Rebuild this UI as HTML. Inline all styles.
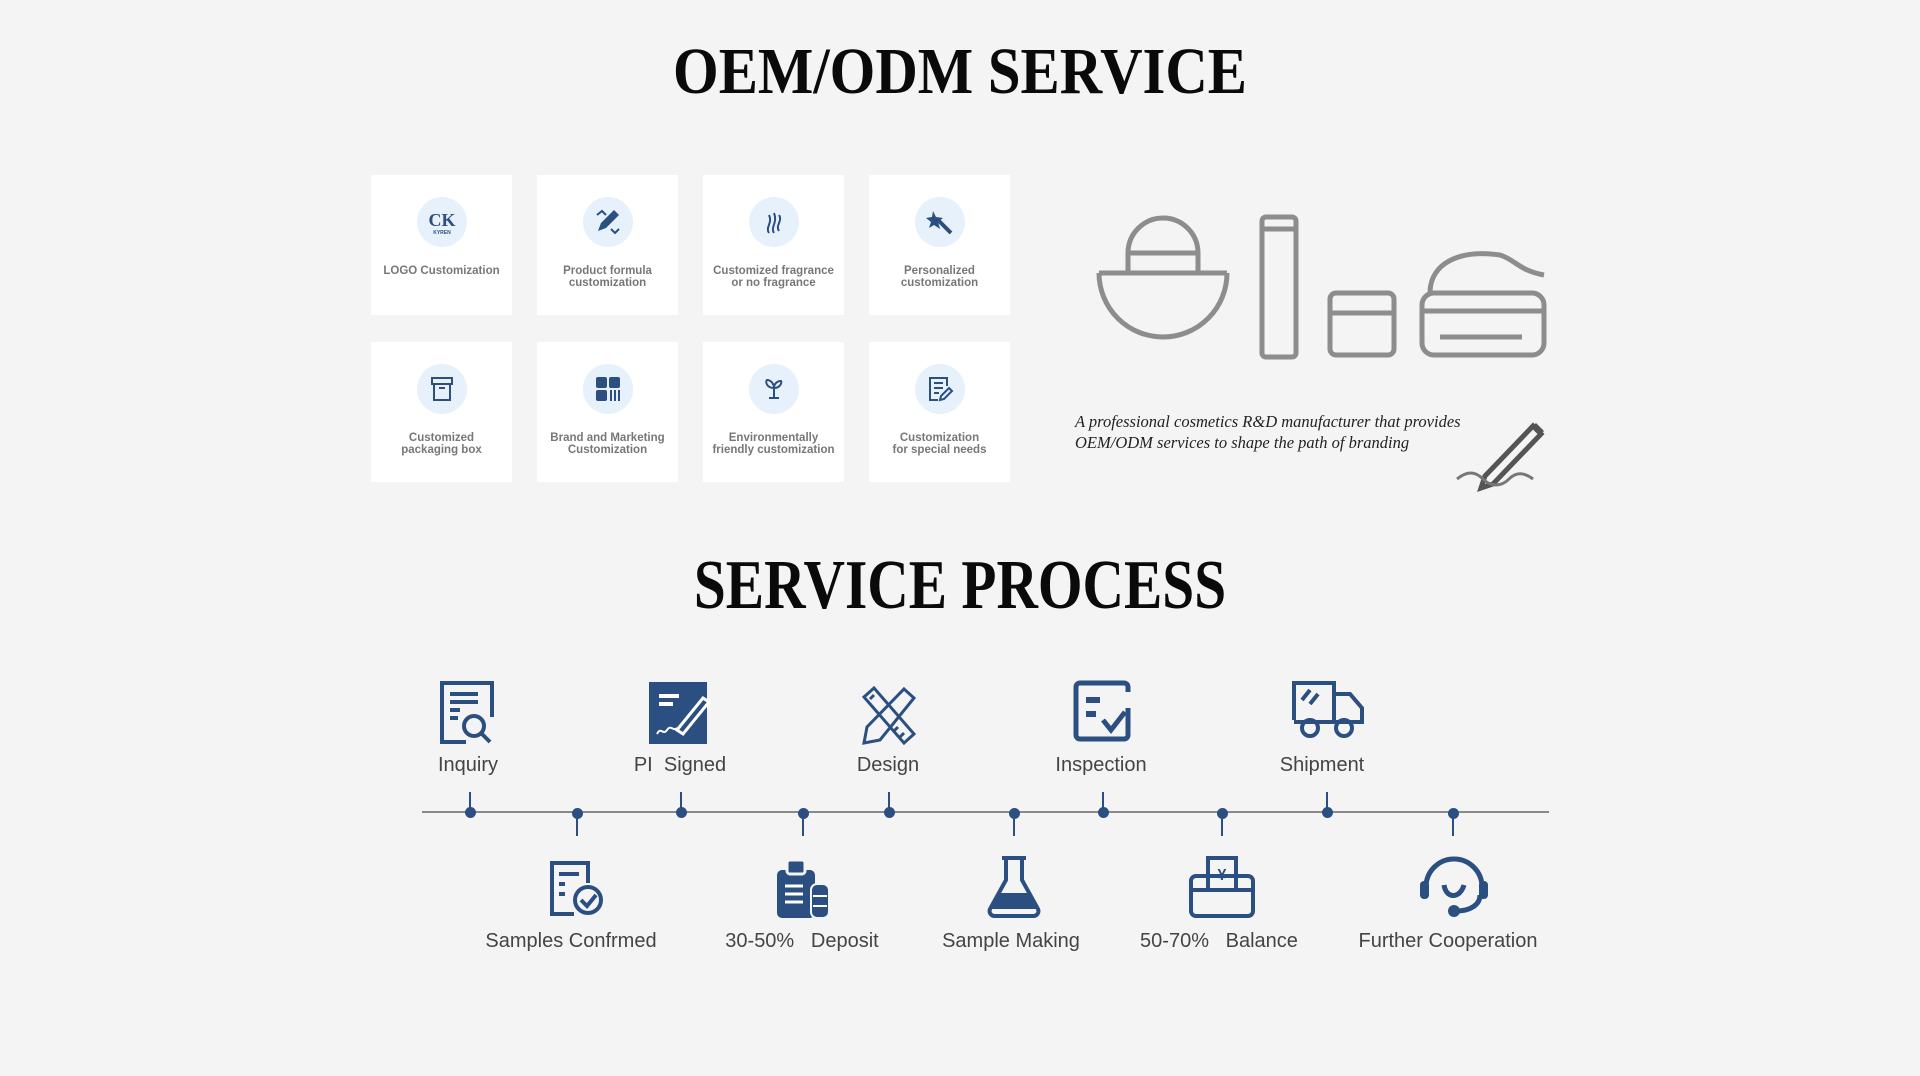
<!DOCTYPE html>
<html><head><meta charset="utf-8"><style>
*{margin:0;padding:0;box-sizing:border-box}
body{width:1920px;height:1076px;background:#f4f4f5;position:relative;overflow:hidden;font-family:"Liberation Sans",sans-serif}
.t{position:absolute;left:0;width:1920px;text-align:center;font-family:"Liberation Serif",serif;font-weight:bold;color:#0a0a0a}
.card{position:absolute;width:141px;height:140px;background:#fff;}
.card .c{position:absolute;left:46px;top:22px;width:50px;height:50px;border-radius:50%;background:#e6f1fb}
.card .c svg{position:absolute;left:10px;top:10px}
.card .l{position:absolute;left:0;width:141px;top:90px;text-align:center;font-size:11.5px;font-weight:bold;color:#777;line-height:12px}
.lab{position:absolute;font-size:20px;color:#444;text-align:center;width:240px;margin-left:-120px}
.ic{position:absolute}
.stem{position:absolute;width:2px;background:#2b4f80}
.dot{position:absolute;width:11px;height:11px;border-radius:50%;background:#2b4f80;margin-left:-5px;margin-top:-5px}
</style></head><body>
<div class="t" style="top:34px;font-size:66px;transform:scaleX(0.89)">OEM/ODM SERVICE</div>

<div class="card" style="left:371px;top:175px"><div class="c"><svg width="30" height="30" viewBox="0 0 30 30"><text x="15" y="19" font-size="18" text-anchor="middle" font-weight="bold" fill="#2b4f80" font-family="Liberation Serif">CK</text><text x="15" y="27" font-size="5" text-anchor="middle" fill="#2b4f80" font-weight="bold">KYREN</text></svg></div><div class="l">LOGO Customization</div></div>
<div class="card" style="left:537px;top:175px"><div class="c"><svg width="30" height="30" viewBox="0 0 30 30"><path d="M5 24L8 16 21 3 26 8 13 21Z" fill="#2b4f80"/><path d="M4 8l5-4 4 4M18 22l4 4 4-4" stroke="#2b4f80" fill="none" stroke-width="2"/></svg></div><div class="l">Product formula<br>customization</div></div>
<div class="card" style="left:703px;top:175px"><div class="c"><svg width="30" height="30" viewBox="0 0 30 30"><path d="M10 26c-4-6 4-10 0-18M15 26c-4-6 4-10 0-20M20 24c-4-6 4-10 0-16" stroke="#2b4f80" fill="none" stroke-width="2"/></svg></div><div class="l">Customized fragrance<br>or no fragrance</div></div>
<div class="card" style="left:869px;top:175px"><div class="c"><svg width="30" height="30" viewBox="0 0 30 30"><path d="M8 4l3 6 7 1-5 4 2 7-6-4-5 3 2-6-5-4 6-1z" fill="#2b4f80"/><path d="M14 14l12 12" stroke="#2b4f80" stroke-width="4"/></svg></div><div class="l">Personalized<br>customization</div></div>

<div class="card" style="left:371px;top:342px"><div class="c"><svg width="30" height="30" viewBox="0 0 30 30"><rect x="5" y="4" width="20" height="6" fill="none" stroke="#2b4f80" stroke-width="2"/><rect x="7" y="10" width="16" height="16" fill="none" stroke="#2b4f80" stroke-width="2"/><rect x="12" y="13" width="6" height="2" fill="#2b4f80"/></svg></div><div class="l">Customized<br>packaging box</div></div>
<div class="card" style="left:537px;top:342px"><div class="c"><svg width="30" height="30" viewBox="0 0 30 30"><rect x="3" y="3" width="11" height="11" rx="2" fill="#2b4f80"/><rect x="16" y="3" width="11" height="11" rx="2" fill="#2b4f80"/><rect x="3" y="16" width="11" height="11" rx="2" fill="#2b4f80"/><path d="M18 16v11M22 16v11M26 16v11" stroke="#2b4f80" stroke-width="2"/></svg></div><div class="l">Brand and Marketing<br>Customization</div></div>
<div class="card" style="left:703px;top:342px"><div class="c"><svg width="30" height="30" viewBox="0 0 30 30"><path d="M15 24V14M15 14C8 14 6 8 8 6c4 0 7 4 7 8zM15 14c6 0 8-5 7-7-4 0-7 3-7 7M10 24h10" stroke="#2b4f80" fill="none" stroke-width="2"/></svg></div><div class="l">Environmentally<br>friendly customization</div></div>
<div class="card" style="left:869px;top:342px"><div class="c"><svg width="30" height="30" viewBox="0 0 30 30"><path d="M22 12V4H5v22h8M9 9h9M9 14h9M9 19h5" stroke="#2b4f80" fill="none" stroke-width="2"/><path d="M15 26l1-4 8-8 3 3-8 8z" stroke="#2b4f80" fill="none" stroke-width="2"/></svg></div><div class="l">Customization<br>for special needs</div></div>

<svg class="ic" style="left:1090px;top:205px" width="460" height="160" viewBox="0 0 460 160">
<g fill="none" stroke="#8d8d8d" stroke-width="5">
<path d="M9 68h128"/><path d="M9 68a64 64 0 0 0 128 0"/><path d="M38 68V48a35 35 0 0 1 70 0v20"/><path d="M38 48h70"/>
<rect x="172" y="12" width="34" height="140" rx="4"/><path d="M172 24h34"/><rect x="240" y="88" width="64" height="62" rx="6" fill="#f4f4f5"/><path d="M240 108h64"/>
<rect x="332" y="88" width="122" height="62" rx="12"/><path d="M332 106h122M350 132h82"/><path d="M340 88c0-30 30-44 70-38 14 4 20 16 44 20"/>
</g></svg>
<div style="position:absolute;left:1075px;top:411px;font-family:'Liberation Serif',serif;font-style:italic;font-size:16.5px;color:#222;line-height:21px">A professional cosmetics R&amp;D manufacturer that provides<br>OEM/ODM services to shape the path of branding</div>
<svg class="ic" style="left:1455px;top:414px" width="105" height="80" viewBox="0 0 105 80"><path d="M30 62L78 12l8 8-48 50-12 4z" fill="none" stroke="#555" stroke-width="5"/><path d="M78 12l8 8 3-3-8-8z" fill="#555"/><path d="M2 65c10-8 18-8 26 0s18 8 26 0 16-6 24 0" stroke="#777" fill="none" stroke-width="3"/></svg>

<div class="t" style="top:546px;font-size:70px;transform:scaleX(0.82)">SERVICE PROCESS</div>

<div style="position:absolute;left:422px;top:811px;width:1127px;height:2px;background:#8a8a8a"></div>
<div class="stem" style="left:469px;top:792px;height:20px"></div><div class="dot" style="left:470px;top:812px"></div>
<div class="stem" style="left:680px;top:792px;height:20px"></div><div class="dot" style="left:681px;top:812px"></div>
<div class="stem" style="left:888px;top:792px;height:20px"></div><div class="dot" style="left:889px;top:812px"></div>
<div class="stem" style="left:1102px;top:792px;height:20px"></div><div class="dot" style="left:1103px;top:812px"></div>
<div class="stem" style="left:1326px;top:792px;height:20px"></div><div class="dot" style="left:1327px;top:812px"></div>
<div class="stem" style="left:576px;top:812px;height:24px"></div><div class="dot" style="left:577px;top:813px"></div>
<div class="stem" style="left:802px;top:812px;height:24px"></div><div class="dot" style="left:803px;top:813px"></div>
<div class="stem" style="left:1013px;top:812px;height:24px"></div><div class="dot" style="left:1014px;top:813px"></div>
<div class="stem" style="left:1221px;top:812px;height:24px"></div><div class="dot" style="left:1222px;top:813px"></div>
<div class="stem" style="left:1452px;top:812px;height:24px"></div><div class="dot" style="left:1453px;top:813px"></div>

<svg class="ic" style="left:438px;top:680px" width="64" height="66" viewBox="0 0 64 66"><g fill="none" stroke="#2b4f80" stroke-width="4"><path d="M28 62H4V3h50v34"/><path d="M12 14h28M12 22h28M12 30h10M12 38h8"/><circle cx="36" cy="46" r="10"/><path d="M43 53l9 9"/></g></svg>
<svg class="ic" style="left:649px;top:682px" width="66" height="62" viewBox="0 0 66 62"><rect x="0" y="0" width="58" height="62" fill="#2b4f80"/><path d="M10 14h20M10 22h14" stroke="#fff" stroke-width="4"/><path d="M28 48L54 16l6 4-26 32z" fill="none" stroke="#fff" stroke-width="3"/><path d="M8 52c4-8 6 2 10-4s6 2 10-2" stroke="#fff" fill="none" stroke-width="2"/></svg>
<svg class="ic" style="left:860px;top:685px" width="58" height="60" viewBox="0 0 58 60"><g fill="none" stroke="#2b4f80" stroke-width="3"><path d="M4 12l10-9 40 46-10 9z"/><path d="M44 4l10 9-34 42-16 3 3-16z"/><path d="M10 14l4-4M34 46l4-4M40 52l4-4"/></g></svg>
<svg class="ic" style="left:1073px;top:680px" width="60" height="62" viewBox="0 0 60 62"><g fill="none" stroke="#2b4f80" stroke-width="5"><rect x="3" y="3" width="52" height="56" rx="4"/></g><path d="M13 20h14M13 34h10" stroke="#2b4f80" stroke-width="6"/><path d="M30 40l8 10 14-18" stroke="#2b4f80" fill="none" stroke-width="5"/><rect x="44" y="12" width="14" height="16" fill="#f4f4f5"/></svg>
<svg class="ic" style="left:1290px;top:680px" width="76" height="60" viewBox="0 0 76 60"><g fill="none" stroke="#2b4f80" stroke-width="4"><path d="M4 40V3h40v37M44 14h16l12 14v14H4"/><circle cx="20" cy="48" r="8"/><circle cx="54" cy="48" r="8"/><path d="M12 20l8-10M20 24l8-10"/></g></svg>

<svg class="ic" style="left:548px;top:860px" width="58" height="58" viewBox="0 0 58 58"><g fill="none" stroke="#2b4f80" stroke-width="4"><path d="M26 54H4V3h36v20"/><path d="M11 14h20M11 24h6M11 34h6"/><circle cx="40" cy="40" r="13"/><path d="M33 40l6 6 9-11"/></g></svg>
<svg class="ic" style="left:775px;top:858px" width="56" height="62" viewBox="0 0 56 62"><rect x="2" y="12" width="38" height="48" rx="5" fill="#2b4f80"/><rect x="12" y="2" width="18" height="14" rx="3" fill="#2b4f80" stroke="#f4f4f5" stroke-width="3"/><path d="M10 28h18M10 36h18M10 44h18" stroke="#fff" stroke-width="3"/><rect x="36" y="26" width="18" height="34" rx="6" fill="#2b4f80" stroke="#f4f4f5" stroke-width="2"/><path d="M38 38h14M38 48h14" stroke="#fff" stroke-width="2"/></svg>
<svg class="ic" style="left:986px;top:855px" width="56" height="64" viewBox="0 0 56 64"><path d="M20 3v22L4 54a5 5 0 0 0 4 7h40a5 5 0 0 0 4-7L36 25V3" fill="none" stroke="#2b4f80" stroke-width="4"/><path d="M16 3h24" stroke="#2b4f80" stroke-width="4"/><path d="M14 38h28l8 16H6z" fill="#2b4f80"/></svg>
<svg class="ic" style="left:1188px;top:854px" width="68" height="66" viewBox="0 0 68 66"><g fill="none" stroke="#2b4f80" stroke-width="4"><rect x="3" y="22" width="62" height="40" rx="5"/><path d="M3 36h62"/><path d="M20 36V4h28v32"/></g><text x="34" y="26" font-size="16" text-anchor="middle" fill="#2b4f80" font-weight="bold">¥</text></svg>
<svg class="ic" style="left:1416px;top:853px" width="76" height="66" viewBox="0 0 76 66"><g fill="none" stroke="#2b4f80" stroke-width="5"><path d="M10 34a28 28 0 0 1 56 0"/><path d="M28 32c2 14 16 14 20 0"/><path d="M64 42c0 10-10 16-24 16"/></g><rect x="4" y="28" width="9" height="18" rx="4" fill="#2b4f80"/><rect x="63" y="28" width="9" height="18" rx="4" fill="#2b4f80"/><circle cx="38" cy="58" r="6" fill="#2b4f80"/></svg>

<div class="lab" style="left:468px;top:754px">Inquiry</div>
<div class="lab" style="left:680px;top:754px">PI&nbsp; Signed</div>
<div class="lab" style="left:888px;top:754px">Design</div>
<div class="lab" style="left:1101px;top:754px">Inspection</div>
<div class="lab" style="left:1322px;top:754px">Shipment</div>
<div class="lab" style="left:571px;top:930px">Samples Confrmed</div>
<div class="lab" style="left:802px;top:930px">30-50%&nbsp;&nbsp; Deposit</div>
<div class="lab" style="left:1011px;top:930px">Sample Making</div>
<div class="lab" style="left:1219px;top:930px">50-70%&nbsp;&nbsp; Balance</div>
<div class="lab" style="left:1448px;top:930px">Further Cooperation</div>
</body></html>
